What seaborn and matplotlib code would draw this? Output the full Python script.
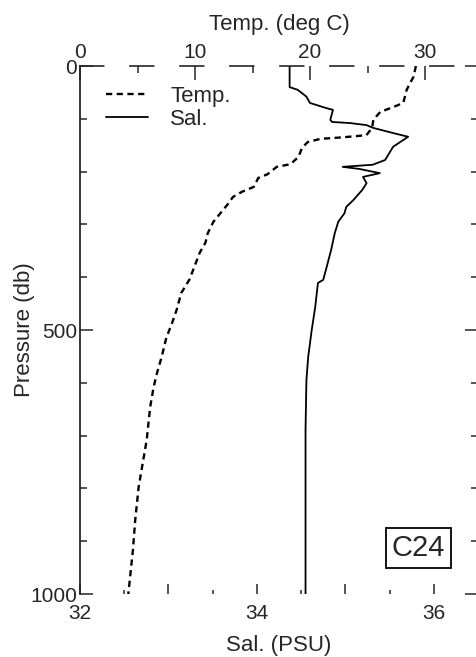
import matplotlib
matplotlib.use("Agg")
import matplotlib.pyplot as plt
import seaborn as sns
import pandas as pd
from matplotlib.ticker import FixedLocator, MultipleLocator

# CTD cast C24: temperature profile
temp_pressure = [0, 20, 45, 70, 78, 87, 102, 117, 131, 135, 138, 144, 155, 172,
                 186, 191, 205, 212, 229, 238, 248, 263, 279, 295, 317, 335, 354,
                 377, 405, 430, 462, 487, 515, 551, 581, 608, 646, 708, 746, 797,
                 860, 917, 1000]
temp_values = [29.2, 29.0, 28.4, 28.1, 27.2, 26.1, 25.5, 25.4, 24.9, 22.9, 20.9,
               19.8, 19.3, 19.0, 18.3, 17.1, 16.3, 15.5, 15.1, 14.1, 13.3, 12.8,
               12.2, 11.6, 11.1, 10.9, 10.4, 10.0, 9.5, 8.8, 8.4, 8.0, 7.5, 7.1,
               6.7, 6.4, 6.1, 5.8, 5.5, 5.1, 4.8, 4.6, 4.2]

# CTD cast C24: salinity profile
sal_pressure = [0, 40, 45, 58, 70, 80, 83, 102, 106, 108, 112, 117, 127, 134, 153,
                178, 187, 191, 195, 203, 210, 222, 235, 254, 267, 279, 295, 317,
                348, 380, 405, 411, 456, 500, 551, 595, 689, 1000]
sal_values = [34.37, 34.37, 34.46, 34.56, 34.60, 34.79, 34.86, 34.83, 34.85, 35.05,
              35.24, 35.31, 35.54, 35.71, 35.54, 35.45, 35.31, 34.97, 35.16, 35.39,
              35.20, 35.24, 35.19, 35.09, 35.01, 34.99, 34.92, 34.88, 34.84, 34.79,
              34.75, 34.69, 34.66, 34.62, 34.58, 34.56, 34.55, 34.55]

sal_ticks = [32, 33, 34, 35, 36]
sal_ticklabels = ["32", "", "34", "", "36"]
temp_ticks = [0, 10, 20, 30]
pressure_ticks = [0, 500, 1000]

station = "C24"

sns.set_style("ticks")
plt.rcParams["font.family"] = ["Liberation Sans", "DejaVu Sans"]
plt.rcParams["font.size"] = 15
plt.rcParams["lines.scale_dashes"] = False

temp_df = pd.DataFrame({"Pressure": temp_pressure, "Temp": temp_values})
sal_df = pd.DataFrame({"Pressure": sal_pressure, "Sal": sal_values})

fig = plt.figure(figsize=(4.77, 6.57), dpi=100)
ax = fig.add_axes([80 / 477, 63 / 657, 398 / 477, 528 / 657])
axt = ax.twiny()

sns.lineplot(data=sal_df, x="Sal", y="Pressure", ax=ax, sort=False,
             estimator=None, orient="y", color="black", linewidth=1.3,
             label="Sal.", legend=False)
sns.lineplot(data=temp_df, x="Temp", y="Pressure", ax=axt, sort=False,
             estimator=None, orient="y", color="black", linewidth=1.7,
             dashes=False, label="Temp.", legend=False)
for line in axt.get_lines():
    line.set_dashes((4.5, 3.2))

ax.set_xlim(32, 36.5)
axt.set_xlim(0, 34.6)
ax.set_ylim(1000, 0)

# bottom (salinity) axis
ax.xaxis.set_major_locator(FixedLocator(sal_ticks))
ax.set_xticklabels(sal_ticklabels)
ax.xaxis.set_minor_locator(MultipleLocator(0.5))
ax.yaxis.set_major_locator(FixedLocator(pressure_ticks))
ax.yaxis.set_minor_locator(MultipleLocator(100))
ax.tick_params(axis="x", which="major", direction="in", length=7, width=1.1,
               pad=7, labelsize=15)
ax.tick_params(axis="x", which="minor", direction="in", length=3, width=1.1)
ax.tick_params(axis="y", which="major", direction="in", length=9.5, width=1.1,
               pad=2, labelsize=15, right=True)
ax.tick_params(axis="y", which="minor", direction="in", length=5, width=1.1,
               right=True)

# top (temperature) axis
axt.xaxis.set_major_locator(FixedLocator(temp_ticks))
axt.xaxis.set_minor_locator(MultipleLocator(5))
axt.tick_params(axis="x", which="major", direction="in", length=10, width=1.1,
                pad=3, labelsize=15)
axt.tick_params(axis="x", which="minor", direction="in", length=5, width=1.1)

for side in ["top", "bottom", "right"]:
    ax.spines[side].set_visible(False)
ax.spines["left"].set_linewidth(1.3)
for side in ["left", "bottom", "right"]:
    axt.spines[side].set_visible(False)
axt.spines["top"].set_linewidth(1.2)
axt.spines["top"].set_linestyle((0, (17, 19)))

ax.set_xlabel("Sal. (PSU)", fontsize=16, labelpad=9)
ax.set_ylabel("Pressure (db)", fontsize=16)
ax.yaxis.set_label_coords(-0.112, 0.5)
axt.set_xlabel("Temp. (deg C)", fontsize=16, labelpad=9)

handles = axt.get_lines()[:1] + ax.get_lines()[:1]
ax.legend(handles, ["Temp.", "Sal."], loc="upper left",
          bbox_to_anchor=(0.065, 0.962), frameon=False, fontsize=16,
          handlelength=1.9, handletextpad=1.0, labelspacing=0.08,
          borderpad=0, borderaxespad=0)

ax.text(0.85, 0.087, station, transform=ax.transAxes, fontsize=21,
        ha="center", va="center",
        bbox=dict(boxstyle="square,pad=0.2", facecolor="white",
                  edgecolor="black", linewidth=1.3))

fig.savefig("out.png", dpi=100)
